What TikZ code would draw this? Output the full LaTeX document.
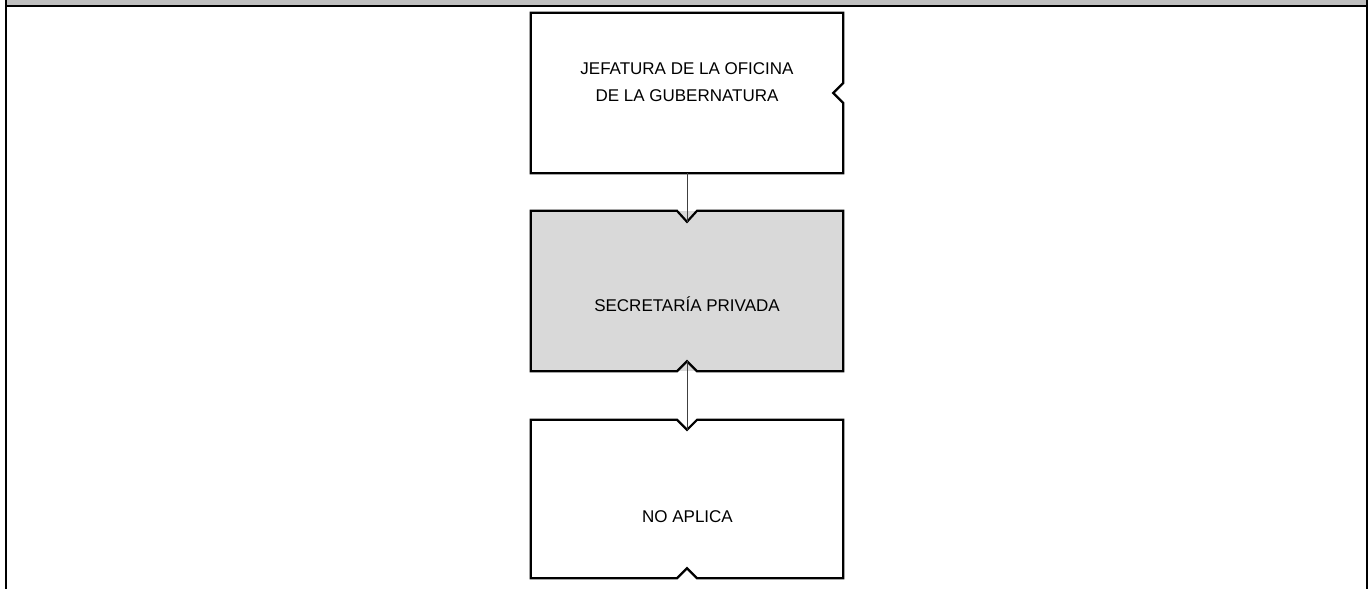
\documentclass[tikz,border=0pt]{standalone}
\usepackage{fontspec}
\setmainfont{Liberation Sans}
\definecolor{hdrgray}{HTML}{BFBFBF}
\definecolor{boxgray}{HTML}{D9D9D9}
\definecolor{linkgray}{HTML}{404040}
\tikzset{
  outline/.style={draw=black, line width=2.2pt, line join=miter},
  holder/.style={draw=none, inner sep=0pt, minimum width=312pt, minimum height=160pt},
  label/.style={inner sep=0pt, anchor=base, font=\fontsize{17}{27}\selectfont},
  link/.style={draw=linkgray, line width=1pt}
}
\begin{document}
\begin{tikzpicture}[x=1pt, y=-1pt]
\useasboundingbox (0,0) rectangle (1368,589);
% header band and frame
\fill[hdrgray] (6,0) rectangle (1366.5,6.3);
\draw[line width=2pt] (6,6.3) -- (1366.5,6.3);
\draw[line width=2pt] (6,0) -- (6,589);
\draw[line width=2pt] (1366.5,0) -- (1366.5,589);

% placeholders for boxes
\node[holder] (b1) at (687,93) {};
\node[holder] (b2) at (687,291) {};
\node[holder, minimum height=158pt] (b3) at (687,499) {};

% box 1: notch on right side
\draw[outline, fill=white] (b1.north west) -- (b1.north east) -- ([yshift=10pt]b1.east)
  -- ([xshift=-10pt]b1.east) -- ([yshift=-10pt]b1.east) -- (b1.south east)
  -- (b1.south west) -- cycle;

% box 2: grey, notch at top (down) and bottom (up)
\fill[boxgray] (b2.north west) rectangle (b2.south east);
\draw[outline] (b2.north west) -- ([xshift=-10pt]b2.north) -- ([yshift=-11pt]b2.north)
  -- ([xshift=10pt]b2.north) -- (b2.north east) -- (b2.south east)
  -- ([xshift=10pt]b2.south) -- ([yshift=10pt]b2.south) -- ([xshift=-10pt]b2.south)
  -- (b2.south west) -- cycle;

% box 3
\draw[outline] (b3.north west) -- ([xshift=-10pt]b3.north) -- ([yshift=-10pt]b3.north)
  -- ([xshift=10pt]b3.north) -- (b3.north east) -- (b3.south east)
  -- ([xshift=10pt]b3.south) -- ([yshift=10pt]b3.south) -- ([xshift=-10pt]b3.south)
  -- (b3.south west) -- cycle;

% connectors
\coordinate (n2top) at ([yshift=-11pt]b2.north);
\coordinate (n2bot) at ([yshift=10pt]b2.south);
\coordinate (n3top) at ([yshift=-10pt]b3.north);
\draw[link] (b1.south) -- (n2top);
\draw[link] (n2bot) -- (n3top);

% texts
\node[label] (t1a) at (687,74) {JEFATURA DE LA OFICINA};
\node[label] (t1b) at (687,101) {DE LA GUBERNATURA};
\node[label] (t2) at (687,311) {SECRETARÍA PRIVADA};
\node[label] (t3) at (687.5,522) {NO APLICA};
\end{tikzpicture}
\end{document}
